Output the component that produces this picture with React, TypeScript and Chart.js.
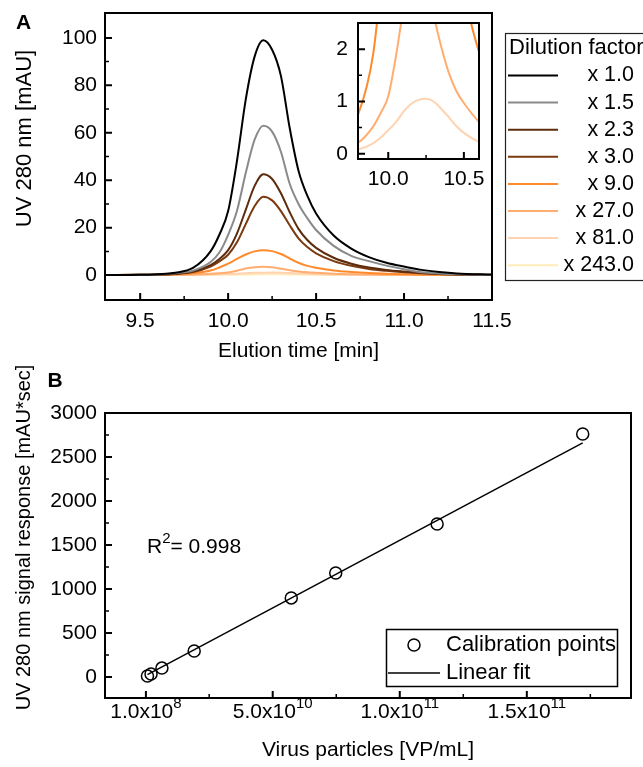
import { useEffect, useRef } from 'react';
import { Chart, registerables } from 'chart.js';

Chart.register(...registerables);

const FONT = '"Liberation Sans", Arial, Helvetica, sans-serif';

// ---------- Panel A: chromatograms ----------
const TIME_MIN = [9.3, 9.5, 9.6, 9.7, 9.8, 9.9, 9.95, 10.0, 10.05, 10.1, 10.15, 10.2, 10.25, 10.3, 10.35, 10.4, 10.45, 10.5, 10.6, 10.7, 10.8, 10.9, 11.0, 11.1, 11.2, 11.3, 11.5];
const UV_X1_0 = [0, 0.1, 0.4, 1.0, 3.0, 10.0, 17.0, 27.0, 48.0, 74.0, 92.0, 99.0, 95.0, 84.0, 62.0, 44.0, 33.5, 26.0, 16.7, 11.2, 7.6, 5.2, 3.6, 2.2, 1.3, 0.7, 0.2];
const UV_X1_5 = [0, 0.1, 0.3, 0.8, 1.9, 5.5, 9.5, 17.0, 27.0, 43.0, 57.0, 63.0, 60.5, 52.0, 38.5, 30.0, 24.0, 19.0, 12.3, 8.1, 5.9, 4.0, 2.5, 1.2, 0.7, 0.4, 0.1];
const UV_X2_3 = [0, 0.1, 0.25, 0.6, 1.5, 4.2, 6.8, 10.5, 17.5, 27.5, 37.5, 42.5, 40.5, 34.5, 26.5, 19.5, 14.8, 11.5, 7.3, 4.8, 3.2, 2.2, 1.5, 0.9, 0.5, 0.3, 0.05];
const UV_X3_0 = [0, 0.1, 0.2, 0.5, 1.3, 3.6, 5.8, 8.6, 13.8, 21.5, 29.0, 33.0, 31.5, 27.0, 21.0, 15.5, 11.8, 9.2, 5.9, 3.9, 2.6, 1.8, 1.2, 0.75, 0.45, 0.25, 0.05];
const UV_X9_0 = [0, 0.1, 0.2, 0.4, 0.75, 1.9, 3.2, 4.8, 6.8, 8.7, 10.0, 10.5, 10.1, 8.9, 7.0, 5.2, 3.9, 3.1, 1.95, 1.3, 0.85, 0.6, 0.4, 0.25, 0.15, 0.08, 0.02];
const UV_X27_0 = [0, 0.03, 0.06, 0.12, 0.21, 0.52, 0.78, 1.1, 1.85, 2.75, 3.3, 3.5, 3.3, 2.65, 2.05, 1.55, 1.2, 0.97, 0.61, 0.4, 0.27, 0.18, 0.12, 0.08, 0.05, 0.03, 0.01];
const UV_X81_0 = [0, 0.01, 0.02, 0.04, 0.08, 0.2, 0.31, 0.45, 0.6, 0.8, 0.95, 1.03, 1.05, 1.0, 0.86, 0.7, 0.53, 0.4, 0.23, 0.14, 0.09, 0.06, 0.04, 0.025, 0.015, 0.01, 0];
const UV_X243_0 = [0, 0, 0.01, 0.02, 0.03, 0.07, 0.1, 0.14, 0.19, 0.25, 0.3, 0.34, 0.35, 0.33, 0.28, 0.22, 0.17, 0.13, 0.08, 0.05, 0.03, 0.02, 0.01, 0.01, 0, 0, 0];

const DILUTION_LABELS = ['x 1.0', 'x 1.5', 'x 2.3', 'x 3.0', 'x 9.0', 'x 27.0', 'x 81.0', 'x 243.0'];
const DILUTION_COLORS = ['#000000', '#8a8a8a', '#5d2c0c', '#7b3a0f', '#ff8a2c', '#ffad70', '#ffd3b0', '#ffecb8'];
const INSET_SERIES = ['x 9.0', 'x 27.0', 'x 81.0'];
const LEGEND_A_TITLE = 'Dilution factor';
const A_X_TITLE = 'Elution time [min]';
const A_Y_TITLE = 'UV 280 nm [mAU]';

const A_X_TICKS = [9.5, 10.0, 10.5, 11.0, 11.5];
const A_X_MINOR = [9.75, 10.25, 10.75, 11.25];
const A_Y_TICKS = [0, 20, 40, 60, 80, 100];
const A_Y_MINOR = [10, 30, 50, 70, 90];
const INSET_X_TICKS = [10.0, 10.5];
const INSET_X_MINOR = [10.25];
const INSET_Y_TICKS = [0, 1, 2];
const INSET_Y_MINOR = [0.5, 1.5];

// ---------- Panel B: calibration ----------
const VIRUS_PARTICLES = [7.1e8, 2.12e9, 6.4e9, 1.91e10, 5.73e10, 7.48e10, 1.147e11, 1.72e11];
const SIGNAL_RESPONSE = [10, 33, 100, 295, 898, 1182, 1739, 2761];
const FIT_X = [7.1e8, 1.72e11];
const FIT_Y = [25, 2660];
const R_SQUARED = '0.998';
const B_X_TICKS = [1e8, 5e10, 1e11, 1.5e11];
const B_X_TICK_BASE = ['1.0x10', '5.0x10', '1.0x10', '1.5x10'];
const B_X_TICK_EXP = ['8', '10', '11', '11'];
const B_X_MINOR = [2.5e10, 7.5e10, 1.25e11, 1.75e11];
const B_Y_TICKS = [0, 500, 1000, 1500, 2000, 2500, 3000];
const B_Y_MINOR = [250, 750, 1250, 1750, 2250, 2750];
const B_X_TITLE = 'Virus particles [VP/mL]';
const B_Y_TITLE = 'UV 280 nm signal response [mAU*sec]';
const LEGEND_B = ['Calibration points', 'Linear fit'];

function frameTicks(id: string, xMajor: number[], xMinor: number[], yMajor: number[], yMinor: number[]) {
  return {
    id,
    afterDatasetsDraw(chart: any) {
      const { ctx, chartArea: a } = chart;
      const xs = chart.scales.x;
      const ys = chart.scales.y;
      ctx.save();
      ctx.strokeStyle = '#000';
      ctx.lineWidth = 2;
      ctx.strokeRect(a.left, a.top, a.right - a.left, a.bottom - a.top);
      const drawX = (vals: number[], len: number, lw: number) => {
        ctx.lineWidth = lw;
        ctx.beginPath();
        vals.forEach((v) => {
          const p = xs.getPixelForValue(v);
          if (p < a.left || p > a.right) return;
          ctx.moveTo(p, a.bottom);
          ctx.lineTo(p, a.bottom - len);
        });
        ctx.stroke();
      };
      const drawY = (vals: number[], len: number, lw: number) => {
        ctx.lineWidth = lw;
        ctx.beginPath();
        vals.forEach((v) => {
          const p = ys.getPixelForValue(v);
          if (p < a.top || p > a.bottom) return;
          ctx.moveTo(a.left, p);
          ctx.lineTo(a.left + len, p);
        });
        ctx.stroke();
      };
      drawX(xMajor, 7, 2);
      drawX(xMinor, 4, 1.5);
      drawY(yMajor, 7, 2);
      drawY(yMinor, 4, 1.5);
      ctx.restore();
    },
  };
}

const panelAOverlay = {
  id: 'panelAOverlay',
  afterDraw(chart: any) {
    const ctx = chart.ctx;
    ctx.save();
    ctx.fillStyle = '#000';
    ctx.textAlign = 'center';
    ctx.textBaseline = 'middle';
    ctx.font = `bold 21px ${FONT}`;
    ctx.fillText('A', 23.5, 23);
    ctx.save();
    ctx.translate(25, 138.5);
    ctx.rotate(-Math.PI / 2);
    ctx.font = `22px ${FONT}`;
    ctx.fillText(A_Y_TITLE, 0, 0);
    ctx.restore();
    // legend
    ctx.lineWidth = 1.2;
    ctx.strokeStyle = '#222';
    ctx.strokeRect(505.5, 33.5, 200, 247);
    ctx.font = `22px ${FONT}`;
    ctx.textAlign = 'left';
    ctx.fillText(LEGEND_A_TITLE, 509, 48);
    ctx.font = `21.5px ${FONT}`;
    chart.data.datasets.forEach((ds: any, i: number) => {
      const y = 75.5 + i * 27.1;
      ctx.strokeStyle = ds.borderColor;
      ctx.lineWidth = 2;
      ctx.beginPath();
      ctx.moveTo(508, y);
      ctx.lineTo(558, y);
      ctx.stroke();
      ctx.textAlign = 'right';
      ctx.fillText(ds.label, 634, y);
    });
    ctx.restore();
  },
};

const panelBOverlay = {
  id: 'panelBOverlay',
  afterDraw(chart: any) {
    const ctx = chart.ctx;
    const xs = chart.scales.x;
    ctx.save();
    ctx.fillStyle = '#000';
    ctx.strokeStyle = '#000';
    ctx.textBaseline = 'middle';
    ctx.textAlign = 'center';
    ctx.font = `bold 21px ${FONT}`;
    ctx.fillText('B', 55, 19);
    ctx.save();
    ctx.translate(24, 175.5);
    ctx.rotate(-Math.PI / 2);
    ctx.font = `20px ${FONT}`;
    ctx.fillText(B_Y_TITLE, 0, 0);
    ctx.restore();

    // x tick labels with superscript exponents
    ctx.textBaseline = 'alphabetic';
    ctx.textAlign = 'left';
    B_X_TICKS.forEach((v, i) => {
      const p = xs.getPixelForValue(v);
      ctx.font = `21px ${FONT}`;
      const wb = ctx.measureText(B_X_TICK_BASE[i]).width;
      ctx.font = `15px ${FONT}`;
      const we = ctx.measureText(B_X_TICK_EXP[i]).width;
      const x0 = p - (wb + we) / 2;
      ctx.font = `21px ${FONT}`;
      ctx.fillText(B_X_TICK_BASE[i], x0, 356);
      ctx.font = `15px ${FONT}`;
      ctx.fillText(B_X_TICK_EXP[i], x0 + wb, 346);
    });

    // R^2 annotation
    ctx.font = `21px ${FONT}`;
    ctx.fillText('R', 147, 191);
    const wr = ctx.measureText('R').width;
    ctx.font = `15px ${FONT}`;
    ctx.fillText('2', 147 + wr, 181);
    const w2 = ctx.measureText('2').width;
    ctx.font = `21px ${FONT}`;
    ctx.fillText('= ' + R_SQUARED, 147 + wr + w2, 191);

    // legend
    ctx.lineWidth = 1.5;
    ctx.fillStyle = '#fff';
    ctx.fillRect(386, 267, 232, 58);
    ctx.strokeRect(386.5, 267.5, 231, 57);
    ctx.fillStyle = '#000';
    ctx.beginPath();
    ctx.arc(414, 283, 6, 0, Math.PI * 2);
    ctx.stroke();
    ctx.beginPath();
    ctx.moveTo(388, 311);
    ctx.lineTo(440, 311);
    ctx.stroke();
    ctx.textBaseline = 'middle';
    ctx.font = `22px ${FONT}`;
    ctx.fillText(LEGEND_B[0], 446, 283);
    ctx.fillText(LEGEND_B[1], 446, 311);
    ctx.restore();
  },
};

function setTicks(values: number[]) {
  return (scale: any) => {
    scale.ticks = values.map((v) => ({ value: v }));
  };
}

function fixSize(dim: 'width' | 'height', size: number) {
  return (s: any) => {
    s[dim] = size;
    s.paddingTop = 0;
    s.paddingBottom = 0;
    s.paddingLeft = 0;
    s.paddingRight = 0;
  };
}

export default function App() {
  const aRef = useRef<HTMLCanvasElement>(null);
  const insetRef = useRef<HTMLCanvasElement>(null);
  const bRef = useRef<HTMLCanvasElement>(null);

  useEffect(() => {
    Chart.defaults.font.family = FONT;
    Chart.defaults.color = '#000';
    const series = [UV_X1_0, UV_X1_5, UV_X2_3, UV_X3_0, UV_X9_0, UV_X27_0, UV_X81_0, UV_X243_0];
    const makeDatasets = () =>
      series.map((s, i) => ({
        label: DILUTION_LABELS[i],
        data: s.map((y, j) => ({ x: TIME_MIN[j], y })),
        borderColor: DILUTION_COLORS[i],
        backgroundColor: DILUTION_COLORS[i],
        borderWidth: 2,
        pointRadius: 0,
        cubicInterpolationMode: 'monotone',
        fill: false,
      }));

    const tickFont = { size: 21 };
    const axisCommon = {
      grid: { display: false, drawTicks: false },
      border: { display: false },
    };

    const chartA = new Chart(aRef.current as HTMLCanvasElement, {
      type: 'line',
      data: { datasets: makeDatasets() as any },
      options: {
        animation: false,
        responsive: false,
        devicePixelRatio: 1,
        layout: { padding: { left: 0, top: 13, right: 151, bottom: 0 } },
        plugins: { legend: { display: false }, tooltip: { enabled: false } },
        scales: {
          x: {
            type: 'linear',
            min: 9.3,
            max: 11.5,
            ...axisCommon,
            afterFit: fixSize('height', 66),
            afterBuildTicks: setTicks(A_X_TICKS),
            ticks: { padding: 9, font: tickFont, maxRotation: 0, autoSkip: false, callback: (v: any) => Number(v).toFixed(1) },
            title: { display: true, text: A_X_TITLE, font: { size: 21 }, padding: { top: 0, bottom: 2 } },
          },
          y: {
            type: 'linear',
            min: -10.5,
            max: 110.5,
            ...axisCommon,
            afterFit: fixSize('width', 105),
            afterBuildTicks: setTicks(A_Y_TICKS),
            ticks: { padding: 8, font: tickFont, autoSkip: false, callback: (v: any) => String(v) },
          },
        },
      } as any,
      plugins: [frameTicks('frameA', A_X_TICKS, A_X_MINOR, A_Y_TICKS, A_Y_MINOR), panelAOverlay],
    });

    const chartInset = new Chart(insetRef.current as HTMLCanvasElement, {
      type: 'line',
      data: { datasets: makeDatasets().filter((d) => INSET_SERIES.includes(d.label)) as any },
      options: {
        animation: false,
        responsive: false,
        devicePixelRatio: 1,
        layout: { padding: { left: 0, top: 8, right: 16, bottom: 0 } },
        plugins: { legend: { display: false }, tooltip: { enabled: false } },
        scales: {
          x: {
            type: 'linear',
            min: 9.8,
            max: 10.6,
            ...axisCommon,
            afterFit: fixSize('height', 38),
            afterBuildTicks: setTicks(INSET_X_TICKS),
            ticks: { padding: 8, font: tickFont, maxRotation: 0, autoSkip: false, callback: (v: any) => Number(v).toFixed(1) },
          },
          y: {
            type: 'linear',
            min: -0.1,
            max: 2.5,
            ...axisCommon,
            afterFit: fixSize('width', 38),
            afterBuildTicks: setTicks(INSET_Y_TICKS),
            ticks: { padding: 10, font: tickFont, autoSkip: false, callback: (v: any) => String(v) },
          },
        },
      } as any,
      plugins: [frameTicks('frameInset', INSET_X_TICKS, INSET_X_MINOR, INSET_Y_TICKS, INSET_Y_MINOR)],
    });

    const chartB = new Chart(bRef.current as HTMLCanvasElement, {
      type: 'scatter',
      data: {
        datasets: [
          {
            label: LEGEND_B[0],
            data: VIRUS_PARTICLES.map((x, i) => ({ x, y: SIGNAL_RESPONSE[i] })),
            showLine: false,
            pointRadius: 6,
            pointBorderWidth: 1.5,
            pointBorderColor: '#000',
            pointBackgroundColor: 'rgba(0,0,0,0)',
          },
          {
            label: LEGEND_B[1],
            data: FIT_X.map((x, i) => ({ x, y: FIT_Y[i] })),
            showLine: true,
            borderColor: '#000',
            borderWidth: 1.5,
            pointRadius: 0,
          },
        ] as any,
      },
      options: {
        animation: false,
        responsive: false,
        devicePixelRatio: 1,
        layout: { padding: { left: 0, top: 51, right: 12, bottom: 0 } },
        plugins: { legend: { display: false }, tooltip: { enabled: false } },
        scales: {
          x: {
            type: 'linear',
            min: -1.6e10,
            max: 1.91e11,
            ...axisCommon,
            afterFit: fixSize('height', 69),
            afterBuildTicks: setTicks(B_X_TICKS),
            ticks: { display: false },
            title: { display: true, text: B_X_TITLE, font: { size: 21 }, padding: { top: 0, bottom: 4 } },
          },
          y: {
            type: 'linear',
            min: -240,
            max: 3000,
            ...axisCommon,
            afterFit: fixSize('width', 105),
            afterBuildTicks: setTicks(B_Y_TICKS),
            ticks: { padding: 8, font: tickFont, autoSkip: false, callback: (v: any) => String(v) },
          },
        },
      } as any,
      plugins: [frameTicks('frameB', B_X_TICKS, B_X_MINOR, B_Y_TICKS, B_Y_MINOR), panelBOverlay],
    });

    return () => {
      chartA.destroy();
      chartInset.destroy();
      chartB.destroy();
    };
  }, []);

  return (
    <div style={{ position: 'absolute', left: 0, top: 0, width: 643, height: 767, background: '#fff', overflow: 'hidden' }}>
      <canvas ref={aRef} width={643} height={366} style={{ position: 'absolute', left: 0, top: 0 }} />
      <canvas ref={bRef} width={643} height={405} style={{ position: 'absolute', left: 0, top: 362 }} />
      <canvas ref={insetRef} width={175} height={182} style={{ position: 'absolute', left: 320, top: 15 }} />
    </div>
  );
}
